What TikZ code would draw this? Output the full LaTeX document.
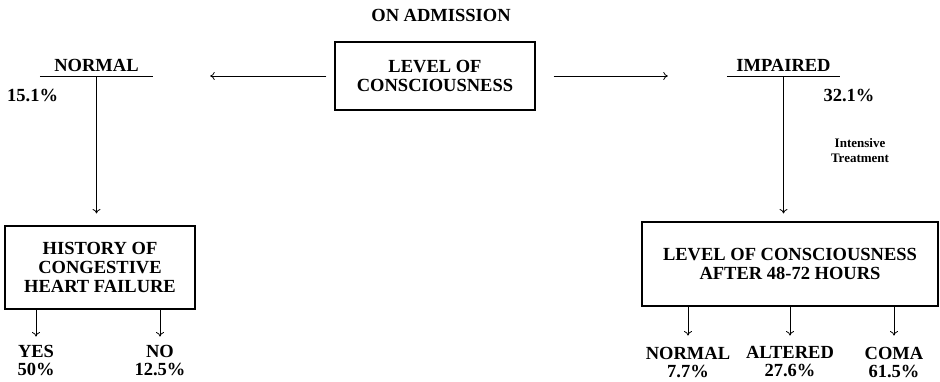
\documentclass[tikz,border=0pt]{standalone}
\usepackage{fontspec}
\setmainfont{Liberation Serif}
\usetikzlibrary{positioning,arrows.meta}

\tikzset{
  box/.style={draw,line width=1.1pt,align=center,inner sep=0pt,
    font=\bfseries\fontsize{18.5}{19}\selectfont},
  head/.style={inner xsep=0pt,inner ysep=4pt,minimum width=113pt,
    font=\bfseries\fontsize{18.5}{19}\selectfont},
  lbl/.style={align=center,inner sep=0pt,
    font=\bfseries\fontsize{18.5}{18}\selectfont},
  small/.style={align=center,inner sep=0pt,
    font=\bfseries\fontsize{13}{15}\selectfont},
  arr/.style={-{To[length=4.5pt,width=8pt]},line width=0.8pt}
}

\begin{document}
\begin{tikzpicture}[x=1pt,y=-1pt]
\useasboundingbox (0,0) rectangle (940,381);

% admission
\node[lbl] (adm) at (441,15) {ON ADMISSION};
\node[box,minimum width=200pt,minimum height=68pt] (cbox) at (435,76)
  {LEVEL OF\\CONSCIOUSNESS};

% the two branches
\node[head,anchor=south] (norm) at (96.5,76) {NORMAL};
\node[head,anchor=south] (imp) at (783.5,76) {IMPAIRED};
\draw[line width=0.8pt] (norm.south west) -- (norm.south east);
\draw[line width=0.8pt] (imp.south west) -- (imp.south east);
\draw[arr,shorten <=8pt,shorten >=57pt] (cbox.west) -- (cbox.west -| norm.east);
\draw[arr,shorten <=18pt,shorten >=59pt] (cbox.east) -- (cbox.east -| imp.west);

\node[lbl,anchor=west] (pnorm) at (7,95) {15.1\%};
\node[lbl] (pimp) at (849,95) {32.1\%};
\node[small] (treat) at (860,151) {Intensive\\Treatment};

% lower boxes
\node[box,minimum width=190pt,minimum height=83pt] (hbox) at (100,267.5)
  {HISTORY OF\\CONGESTIVE\\HEART FAILURE};
\node[box,minimum width=296pt,minimum height=84pt] (rbox) at (790,264)
  {LEVEL OF CONSCIOUSNESS\\AFTER 48-72 HOURS};

\draw[arr,shorten >=12pt] (norm.south) -- (norm.south |- hbox.north);
\draw[arr,shorten >=8pt] (imp.south) -- (imp.south |- rbox.north);

% outcomes
\node[lbl] (yes) at (36,360) {YES\\50\%};
\node[lbl] (no) at (160,360) {NO\\12.5\%};
\node[lbl] (rnorm) at (688,362) {NORMAL\\7.7\%};
\node[lbl] (alt) at (790,362) {ALTERED\\27.6\%};
\node[lbl] (coma) at (894,362) {COMA\\61.5\%};

\foreach \n in {yes,no}
  \draw[arr,shorten >=8pt] (hbox.south -| \n.north) -- (\n.north);
\foreach \n in {rnorm,alt,coma}
  \draw[arr,shorten >=11pt] (rbox.south -| \n.north) -- (\n.north);
\end{tikzpicture}
\end{document}
